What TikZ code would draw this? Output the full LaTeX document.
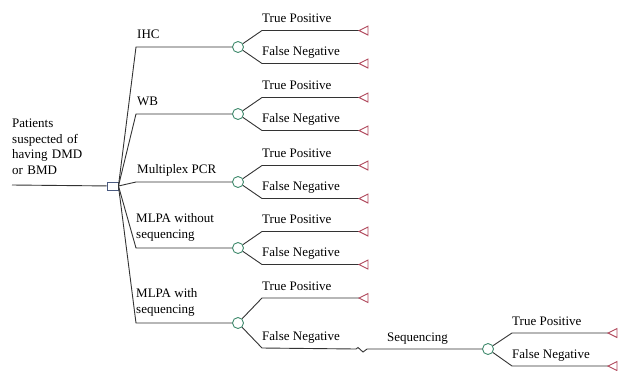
\documentclass[tikz,border=0pt]{standalone}
\usepackage{fontspec}
\setmainfont{Liberation Serif}
\tikzset{
  edge/.style={draw=black!80, line width=0.9pt},
  decision/.style={rectangle, draw=deciblue, line width=0.9pt, fill=white,
    minimum width=11pt, minimum height=8pt, inner sep=0pt},
  chance/.style={circle, draw=chancegreen, line width=0.9pt, fill=white,
    minimum size=11pt, inner sep=0pt},
  leaf/.pic={\draw[draw=termred, line width=0.9pt, line join=miter]
    (0,0) -- (9,-4.5) -- (9,4.5) -- cycle;},
  lbl/.style={anchor=base west, inner sep=0pt, font=\fontsize{13}{15.5}\selectfont},
}
\definecolor{deciblue}{HTML}{4A5A80}
\definecolor{chancegreen}{HTML}{3E8A6C}
\definecolor{termred}{HTML}{B0485C}
\begin{document}
\begin{tikzpicture}[x=1pt, y=-1pt]
\useasboundingbox (0,0) rectangle (620,370);

% root decision
\coordinate (start) at (12,185);
\node[decision] (root) at (112.5,186) {};
\draw[edge] (start) -- (root);
\node[lbl, align=left, anchor=north west, text width=120pt] (patients) at (12,119)
  {Patients\\suspected of\\having DMD\\or BMD};

% the five tests: index / y of branch / half spread of outcomes
\foreach \i/\y/\d in {1/47/16.5, 2/114/16.5, 3/182/16.5, 4/248/16.5, 5/323/25} {
  \coordinate (k\i) at (136,\y);
  \node[chance] (c\i) at (238,\y) {};
  \coordinate (tpk\i) at (262,\y-\d);
  \coordinate (tp\i) at (359,\y-\d);
  \coordinate (fnk\i) at (262,\y+\d);
  \draw[edge] (root.east) -- (k\i) -- (c\i);
  \draw[edge] (c\i) -- (tpk\i) -- (tp\i);
  \pic at (tp\i) {leaf};
  \node[lbl] (tpl\i) at ([yshift=8pt]tpk\i) {True Positive};
  \node[lbl] (fnl\i) at ([yshift=8pt]fnk\i) {False Negative};
}
\foreach \i/\y in {1/47, 2/114, 3/182, 4/248} {
  \coordinate (fnend\i) at (359,\y+16.5);
  \draw[edge] (c\i) -- (fnk\i) -- (fnend\i);
  \pic at (fnend\i) {leaf};
}

% test labels
\node[lbl] (ihc) at (137,38) {IHC};
\node[lbl] (wb) at (137,105) {WB};
\node[lbl] (mpcr) at (137,173) {Multiplex PCR};
\node[lbl, align=left, anchor=north west] (mlpa1) at (136,213.5) {MLPA without\\sequencing};
\node[lbl, align=left, anchor=north west] (mlpa2) at (136,288.5) {MLPA with\\sequencing};

% sequencing after a false negative
\coordinate (br1) at (356,349);
\coordinate (br2) at (367,349);
\node[chance] (c6) at (488,349) {};
\draw[edge] (c5) -- (fnk5) -- (br1) -- ++(2,-1.5) -- ++(5,4.5) -- (br2) -- (c6);
\node[lbl] (seq) at (387,341) {Sequencing};

\coordinate (tpk6) at (512,333);
\coordinate (fnk6) at (512,366);
\coordinate (tp6) at (608,333);
\coordinate (fn6) at (608,366);
\draw[edge] (c6) -- (tpk6) -- (tp6);
\draw[edge] (c6) -- (fnk6) -- (fn6);
\pic at (tp6) {leaf};
\pic at (fn6) {leaf};
\node[lbl] (tpl6) at ([yshift=8pt]tpk6) {True Positive};
\node[lbl] (fnl6) at ([yshift=8pt]fnk6) {False Negative};
\end{tikzpicture}
\end{document}
